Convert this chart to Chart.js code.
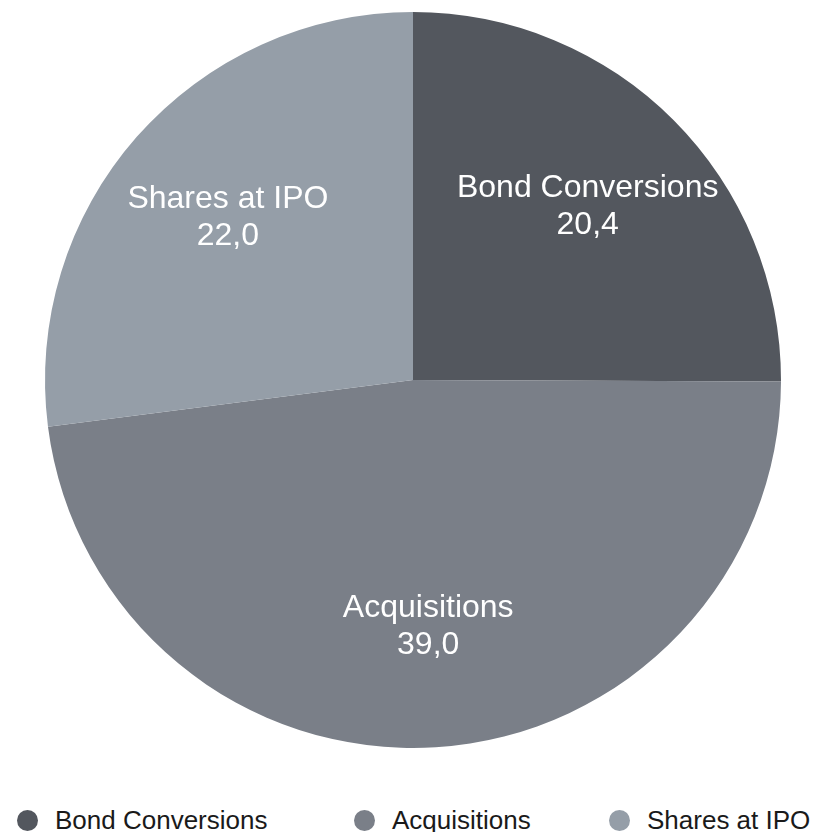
<!DOCTYPE html>
<html>
<head>
<meta charset="utf-8">
<script src="https://cdn.jsdelivr.net/npm/chart.js@4"></script>
<style>
  html, body { margin: 0; padding: 0; background: #ffffff; }
  body { width: 815px; height: 832px; position: relative; overflow: hidden; font-family: "Liberation Sans", Arial, Helvetica, sans-serif; }
  #wrap { position: absolute; left: 0; top: 0; width: 815px; height: 760px; }
  #legend { position: absolute; top: 805px; left: 0; width: 815px; height: 30px; }
  .item { position: absolute; top: 0; display: flex; align-items: center; font-size: 26px; line-height: 30px; color: #1a1a1a; white-space: nowrap; }
  .dot { width: 21px; height: 21px; border-radius: 50%; margin-right: 17px; }
</style>
</head>
<body>
<div id="wrap"><canvas id="c" width="815" height="760"></canvas></div>
<div id="legend"></div>
<script>
const categories = ["Bond Conversions", "Acquisitions", "Shares at IPO"];
const values = [20.4, 39.0, 22.0];
const valueLabels = ["20,4", "39,0", "22,0"];
const colors = ["#53575e", "#7a7f88", "#959ea8"];
const legendLeft = [17, 354, 609];

const labelPlugin = {
  id: 'sliceLabels',
  afterDatasetsDraw(chart) {
    const ctx = chart.ctx;
    const meta = chart.getDatasetMeta(0);
    ctx.save();
    ctx.fillStyle = '#ffffff';
    ctx.textAlign = 'center';
    ctx.textBaseline = 'middle';
    ctx.font = '32px "Liberation Sans", Arial, sans-serif';
    meta.data.forEach((arc, i) => {
      const p = arc.getProps(['x', 'y', 'startAngle', 'endAngle', 'outerRadius'], true);
      const mid = (p.startAngle + p.endAngle) / 2;
      const r = p.outerRadius * 0.67;
      const x = p.x + Math.cos(mid) * r;
      const y = p.y + Math.sin(mid) * r;
      ctx.fillText(categories[i], x, y - 18);
      ctx.fillText(valueLabels[i], x, y + 19);
    });
    ctx.restore();
  }
};

new Chart(document.getElementById('c'), {
  type: 'pie',
  data: {
    labels: categories,
    datasets: [{
      data: values,
      backgroundColor: colors,
      borderWidth: 0
    }]
  },
  options: {
    responsive: false,
    animation: false,
    layout: { padding: { top: 12, bottom: 12, left: 11, right: 0 } },
    plugins: {
      legend: { display: false },
      tooltip: { enabled: false }
    }
  },
  plugins: [labelPlugin]
});

const legend = document.getElementById('legend');
categories.forEach((name, i) => {
  const item = document.createElement('div');
  item.className = 'item';
  item.style.left = legendLeft[i] + 'px';
  const dot = document.createElement('span');
  dot.className = 'dot';
  dot.style.background = colors[i];
  const txt = document.createElement('span');
  txt.textContent = name;
  item.appendChild(dot);
  item.appendChild(txt);
  legend.appendChild(item);
});
</script>
</body>
</html>
